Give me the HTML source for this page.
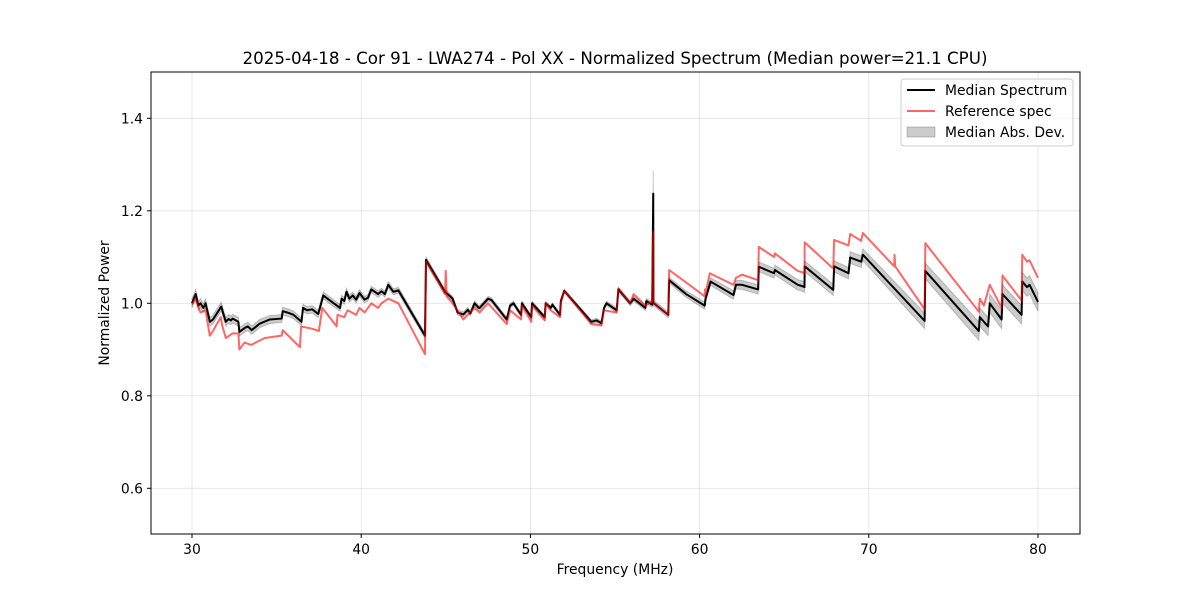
<!DOCTYPE html>
<html><head><meta charset="utf-8"><style>
body{margin:0;background:#fff;font-family:"Liberation Sans","DejaVu Sans",sans-serif}
svg text{font-family:"DejaVu Sans","Liberation Sans",sans-serif}
</style></head><body>
<svg id="chart" width="1200" height="600" viewBox="0 0 1200 600" xmlns="http://www.w3.org/2000/svg">
<rect width="1200" height="600" fill="#fff"/>
<g id="grid"></g>
<g id="band"></g>
<g id="lines"></g>
<rect x="151" y="72" width="929" height="462" fill="none" stroke="#000" stroke-width="1"/>
<g id="ticks"></g>
<text x="615" y="64" text-anchor="middle" font-size="16.7">2025-04-18 - Cor 91 - LWA274 - Pol XX - Normalized Spectrum (Median power=21.1 CPU)</text>
<text x="615" y="574" text-anchor="middle" font-size="13.9">Frequency (MHz)</text>
<text x="109" y="303" text-anchor="middle" font-size="13.9" transform="rotate(-90 109 303)">Normalized Power</text>
<g>
<rect x="901" y="79" width="172" height="67" rx="3" fill="#fff" fill-opacity="0.8" stroke="#ccc"/>
<g><line x1="907" y1="90" x2="935" y2="90" stroke="#000" stroke-width="2"/><text x="945" y="95" font-size="13.9">Median Spectrum</text></g>
<g><line x1="907" y1="111" x2="935" y2="111" stroke="#ff0000" stroke-opacity="0.6" stroke-width="2"/><text x="945" y="116" font-size="13.9">Reference spec</text></g>
<g><rect x="907" y="127" width="28" height="10" fill="#000" fill-opacity="0.2" stroke="#000" stroke-opacity="0.2"/><text x="945" y="137" font-size="13.9">Median Abs. Dev.</text></g>
</g>
</svg>
<script>
const xTicks=[30,40,50,60,70,80];
const yTicks=[0.6,0.8,1.0,1.2,1.4];
const medF=[30,30.22,30.37,30.5,30.67,30.8,31.06,31.24,31.73,31.83,32.0,32.15,32.3,32.4,32.74,32.8,33.13,33.3,33.53,34.0,34.6,35.3,35.36,35.65,36.0,36.47,36.56,36.8,37.1,37.46,37.76,37.9,38.75,38.84,39.0,39.13,39.3,39.5,39.7,39.9,40.2,40.4,40.6,41.0,41.2,41.4,41.6,41.9,42.2,43.77,43.83,44.95,45.1,45.4,45.7,46.04,46.3,46.45,46.7,46.95,47.0,47.5,47.7,48.6,48.8,49.0,49.45,49.5,50.05,50.1,50.85,50.9,51.2,51.3,51.75,51.8,52.0,53.6,53.9,54.2,54.35,54.5,55.1,55.2,55.9,56.1,56.8,56.85,57.2,57.26,57.27,57.3,58.15,58.2,59.2,60.3,60.35,60.65,62.0,62.15,62.5,63.46,63.5,64.4,64.45,65.8,66.0,66.2,66.21,67.9,67.95,68.8,68.9,69.55,69.65,73.3,73.34,76.5,76.56,77.05,77.15,77.85,77.9,79.03,79.07,79.35,79.5,80];
const medV=[1.0,1.02,0.995,1.0,0.99,1.0,0.96,0.965,0.993,0.98,0.96,0.966,0.963,0.967,0.96,0.938,0.947,0.95,0.942,0.956,0.965,0.967,0.983,0.98,0.975,0.96,0.99,0.985,0.987,0.977,1.017,1.013,0.99,1.01,1.005,1.025,1.01,1.017,1.008,1.022,1.008,1.012,1.03,1.02,1.026,1.02,1.04,1.025,1.028,0.93,1.094,1.025,1.02,1.01,0.98,0.976,0.986,0.978,1.0,0.99,0.99,1.01,1.007,0.965,0.995,1.0,0.975,1.0,0.97,1.0,0.97,1.0,0.99,0.997,0.975,1.005,1.027,0.96,0.963,0.957,0.99,1.0,0.985,1.03,1.0,1.01,0.99,1.005,0.997,1.237,1.0,1.0,0.975,1.05,1.02,0.995,1.01,1.047,1.018,1.04,1.04,1.03,1.079,1.065,1.072,1.04,1.038,1.035,1.08,1.029,1.08,1.065,1.099,1.09,1.105,0.962,1.07,0.94,0.97,0.95,1.0,0.965,1.02,0.975,1.047,1.035,1.04,1.003];
const refF=[30,30.2,30.5,30.8,31.05,31.24,31.7,31.8,32.0,32.4,32.74,32.8,33.1,33.5,34.3,35.3,35.36,36.38,36.45,37.1,37.5,37.7,38.55,38.6,39.0,39.2,39.7,39.9,40.2,40.6,41.0,41.2,41.6,42.2,43.77,43.83,44.95,45.0,45.05,45.4,46.04,46.7,47.0,47.5,48.6,48.8,49.45,49.5,50.05,50.1,50.85,50.9,51.2,51.75,51.8,52.0,53.6,54.2,54.35,55.1,55.2,55.9,56.1,56.8,57.2,57.26,57.27,57.3,58.15,58.2,59.2,60.3,60.32,60.35,60.6,62.0,62.15,62.5,63.46,63.5,64.4,64.45,65.8,66.0,66.2,66.21,67.9,67.95,68.8,68.9,69.55,69.65,71.5,71.52,71.56,73.3,73.34,76.5,76.56,76.8,77.15,77.85,77.9,79.03,79.07,79.35,79.5,80];
const refV=[0.997,1.01,0.98,0.985,0.93,0.94,0.97,0.95,0.925,0.935,0.935,0.9,0.915,0.91,0.925,0.93,0.942,0.905,0.95,0.945,0.94,0.99,0.95,0.975,0.97,0.985,0.975,0.99,0.98,1.0,0.99,1.0,1.01,1.0,0.89,1.09,1.02,1.07,1.015,1.0,0.965,0.99,0.98,1.0,0.955,0.985,0.965,0.995,0.96,0.995,0.963,1.0,0.985,0.97,1.0,1.027,0.955,0.952,0.985,0.98,1.032,1.0,1.02,0.995,1.005,1.155,1.0,1.0,0.975,1.072,1.045,1.015,1.03,1.02,1.065,1.04,1.055,1.062,1.05,1.122,1.1,1.108,1.07,1.068,1.065,1.132,1.075,1.137,1.125,1.15,1.135,1.152,1.08,1.105,1.08,0.987,1.13,0.982,1.01,0.995,1.04,0.99,1.06,1.006,1.105,1.09,1.093,1.055];
const madF=[30,44,52,58,63,70,76,80];
const madV=[0.01,0.006,0.004,0.006,0.01,0.013,0.02,0.02];
const X=f=>192+(f-30)*16.92;
const Y=v=>303.3-(v-1)*462.5;
const NS='http://www.w3.org/2000/svg';
function mk(tag,attrs,parent){const e=document.createElementNS(NS,tag);for(const k in attrs)e.setAttribute(k,attrs[k]);parent.appendChild(e);return e;}
function mad(f){for(let i=0;i<madF.length-1;i++){if(f<=madF[i+1]){const t=(f-madF[i])/(madF[i+1]-madF[i]);return madV[i]+t*(madV[i+1]-madV[i]);}}return madV[madV.length-1];}
const grid=document.getElementById('grid'),ticks=document.getElementById('ticks');
xTicks.forEach(t=>{
const g=mk('line',{x1:X(t),x2:X(t),y1:72,y2:534,stroke:'#b0b0b0','stroke-opacity':0.35,'stroke-width':0.8},grid);


const tk=mk('line',{x1:X(t),x2:X(t),y1:534,y2:538,stroke:'#000'},ticks);


const tx=mk('text',{x:X(t),y:554,'text-anchor':'middle','font-size':13.9},ticks);tx.textContent=t;


});
yTicks.forEach(t=>{
const g=mk('line',{x1:151,x2:1080,y1:Y(t),y2:Y(t),stroke:'#b0b0b0','stroke-opacity':0.35,'stroke-width':0.8},grid);


const tk=mk('line',{x1:147,x2:151,y1:Y(t),y2:Y(t),stroke:'#000'},ticks);


const tx=mk('text',{x:143,y:Y(t)+5,'text-anchor':'end','font-size':13.9},ticks);tx.textContent=t.toFixed(1);


});
let up=[],dn=[];
medF.forEach((f,i)=>{let m=mad(f);if(medV[i]>1.15)m=0.05;up.push(X(f)+','+Y(medV[i]+m));dn.unshift(X(f)+','+Y(medV[i]-m));});
const band=mk('polygon',{points:up.concat(dn).join(' '),fill:'#000','fill-opacity':0.2,stroke:'#000','stroke-opacity':0.2,'stroke-width':1},document.getElementById('band'));


const lines=document.getElementById('lines');
const ml=mk('polyline',{points:medF.map((f,i)=>X(f)+','+Y(medV[i])).join(' '),fill:'none',stroke:'#000','stroke-width':2,'stroke-linejoin':'round'},lines);


const rl=mk('polyline',{points:refF.map((f,i)=>X(f)+','+Y(refV[i])).join(' '),fill:'none',stroke:'#ff0000','stroke-opacity':0.6,'stroke-width':2,'stroke-linejoin':'round'},lines);


</script>
</body></html>
